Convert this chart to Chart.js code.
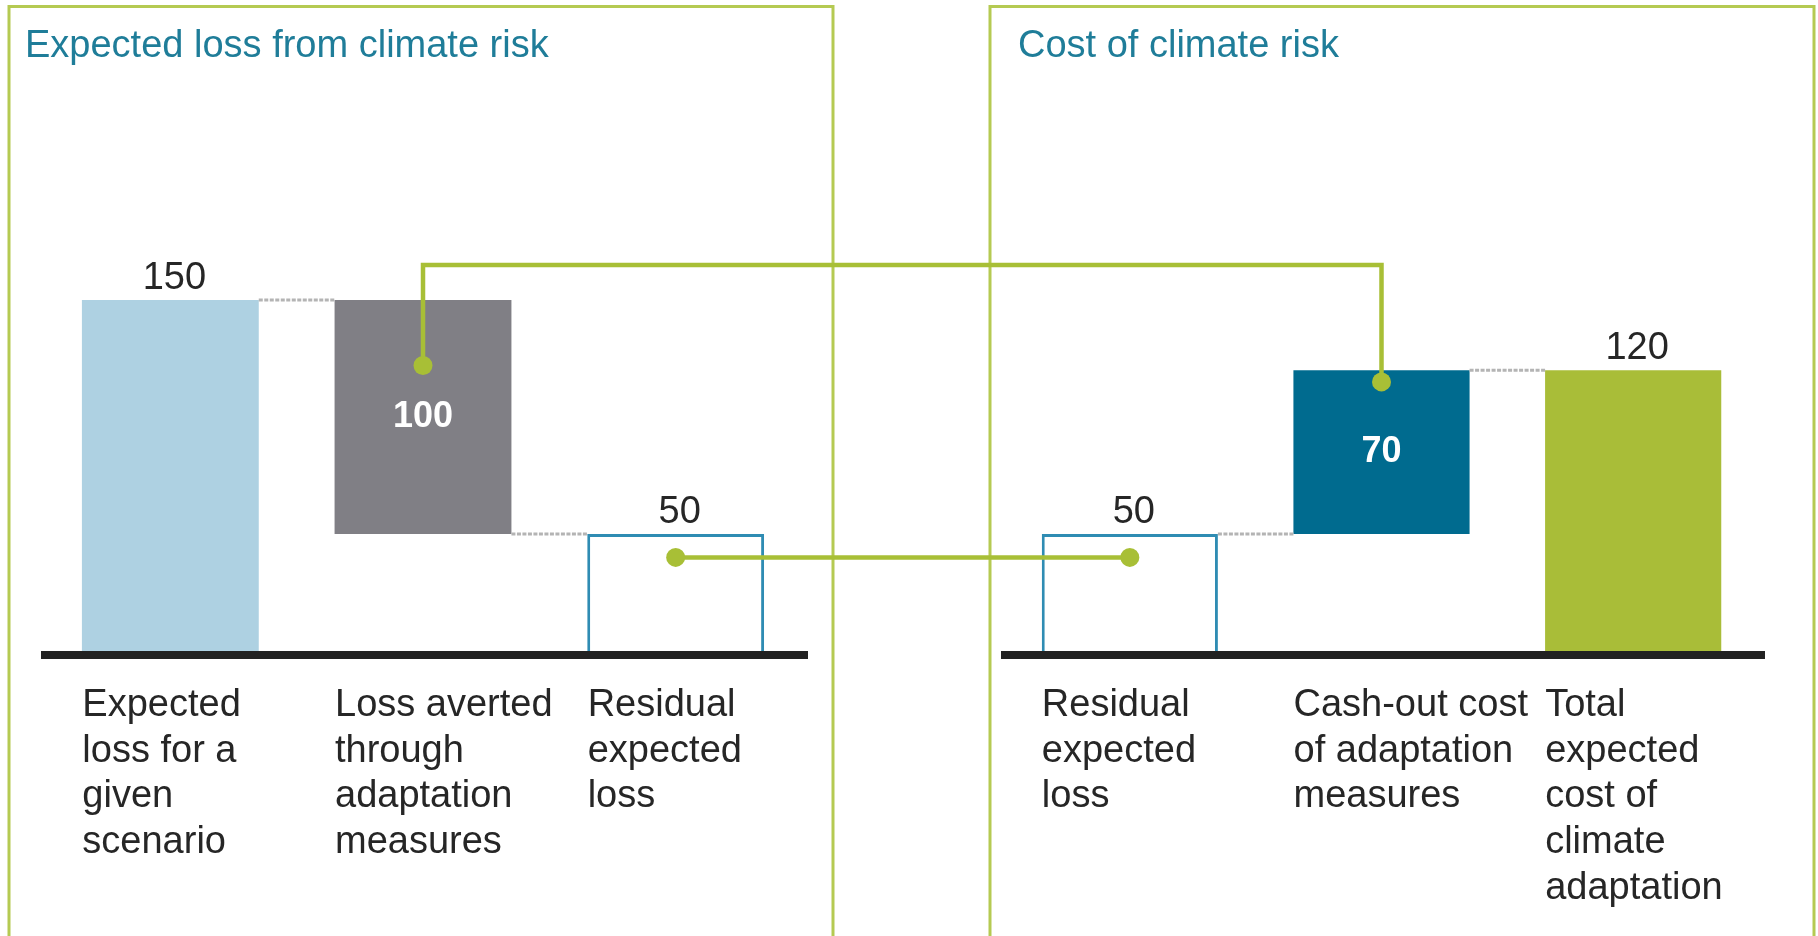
<!DOCTYPE html>
<html><head><meta charset="utf-8">
<script src="https://cdn.jsdelivr.net/npm/chart.js@4.4.1/dist/chart.umd.min.js"></script>
<style>
html,body{margin:0;padding:0;background:#fff;overflow:hidden}
#wrap{position:relative;width:1818px;height:936px}
canvas{position:absolute;top:0}
#cL{left:0}
#cR{left:900px}
#ov{left:0;pointer-events:none}
</style></head><body>
<div id="wrap">
<canvas id="cL" width="900" height="936"></canvas>
<canvas id="cR" width="918" height="936"></canvas>
<canvas id="ov" width="1818" height="936"></canvas>
</div>
<script>
// ---------- data ----------
const leftTitle = "Expected loss from climate risk";
const leftCategories = [["Expected","loss for a","given","scenario"],["Loss averted","through","adaptation","measures"],["Residual","expected","loss"]];
const leftFrom = [0, 50, 0];
const leftTo = [150, 150, 50];
const leftValueText = ["150", "100", "50"];

const rightTitle = "Cost of climate risk";
const rightCategories = [["Residual","expected","loss"],["Cash-out cost","of adaptation","measures"],["Total","expected","cost of","climate","adaptation"]];
const rightFrom = [0, 50, 0];
const rightTo = [50, 120, 120];
const rightValueText = ["50", "70", "120"];

// green links between the panels (category index + value in each panel)
const linkResidual = { leftIndex: 2, leftValue: 40, rightIndex: 0, rightValue: 40 };
const linkCost = { leftIndex: 1, leftValue: 122, topValue: 165, rightIndex: 1, rightValue: 115 };
const yMax = 250;

// ---------- styles ----------
const FONT = '"Liberation Sans", Arial, Helvetica, sans-serif';
const leftFill = ['#aed1e2', '#807f85', '#ffffff'];
const leftBorder = ['#aed1e2', '#807f85', '#2f8cb3'];
const leftBorderW = [0, 0, 3];
const leftInside = [false, true, false];
const rightFill = ['#ffffff', '#006b8f', '#a9bd38'];
const rightBorder = ['#2f8cb3', '#006b8f', '#a9bd38'];
const rightBorderW = [3, 0, 0];
const rightInside = [false, true, false];

function sharedValue(a0, a1, b0, b1) {
  const cands = [a0, a1].filter(v => v !== 0 && (v === b0 || v === b1));
  return cands.length ? cands[0] : null;
}

function panelPlugin(cfg) {
  return {
    id: 'panel',
    beforeDraw(chart) {
      const ctx = chart.ctx;
      ctx.save();
      ctx.fillStyle = '#fff';
      ctx.fillRect(0, 0, chart.width, chart.height);
      ctx.strokeStyle = '#b5ca52';
      ctx.lineWidth = 3;
      ctx.beginPath();
      ctx.moveTo(cfg.boxLeft, chart.height + 10);
      ctx.lineTo(cfg.boxLeft, 6.5);
      ctx.lineTo(cfg.boxRight, 6.5);
      ctx.lineTo(cfg.boxRight, chart.height + 10);
      ctx.stroke();
      ctx.font = '38px ' + FONT;
      ctx.fillStyle = '#1f7d99';
      ctx.textAlign = 'left';
      ctx.textBaseline = 'alphabetic';
      ctx.fillText(cfg.title, cfg.titleX, 57);
      ctx.restore();
    },
    afterDatasetsDraw(chart) {
      const ctx = chart.ctx;
      const meta = chart.getDatasetMeta(0);
      const ys = chart.scales.y;
      const area = chart.chartArea;
      ctx.save();
      // grey step connectors
      ctx.strokeStyle = '#b4b4b4';
      ctx.lineWidth = 3;
      ctx.setLineDash([4, 1.5]);
      for (let i = 0; i < cfg.from.length - 1; i++) {
        const v = sharedValue(cfg.from[i], cfg.to[i], cfg.from[i + 1], cfg.to[i + 1]);
        if (v === null) continue;
        const py = ys.getPixelForValue(v);
        const a = meta.data[i], b = meta.data[i + 1];
        ctx.beginPath();
        ctx.moveTo(a.x + a.width / 2, py);
        ctx.lineTo(b.x - b.width / 2, py);
        ctx.stroke();
      }
      ctx.setLineDash([]);
      // baseline
      const y0 = ys.getPixelForValue(0);
      ctx.fillStyle = '#222222';
      ctx.fillRect(area.left - 3, y0, area.right - area.left + 9, 8);
      // value labels
      ctx.textAlign = 'center';
      for (let i = 0; i < meta.data.length; i++) {
        const bar = meta.data[i];
        const top = Math.min(bar.y, bar.base);
        const bottom = Math.max(bar.y, bar.base);
        if (cfg.inside[i]) {
          ctx.font = 'bold 36px ' + FONT;
          ctx.fillStyle = '#ffffff';
          ctx.textBaseline = 'middle';
          ctx.fillText(cfg.valueText[i], bar.x, (top + bottom) / 2);
        } else {
          ctx.font = '38px ' + FONT;
          ctx.fillStyle = '#262626';
          ctx.textBaseline = 'alphabetic';
          ctx.fillText(cfg.valueText[i], bar.x + 4, top - 11);
        }
      }
      ctx.restore();
    }
  };
}

function makeChart(canvas, cfg) {
  return new Chart(canvas, {
    type: 'bar',
    data: {
      labels: cfg.categories,
      datasets: [{
        data: cfg.from.map((f, i) => [f, cfg.to[i]]),
        backgroundColor: cfg.fill,
        borderColor: cfg.border,
        borderWidth: cfg.borderW,
        borderSkipped: 'start',
        barPercentage: 0.7,
        categoryPercentage: 1.0
      }]
    },
    options: {
      responsive: false,
      animation: false,
      devicePixelRatio: 1,
      events: [],
      layout: { padding: { left: cfg.padLeft, right: cfg.padRight, top: 66, bottom: 0 } },
      plugins: { legend: { display: false }, tooltip: { enabled: false }, title: { display: false } },
      scales: {
        y: { display: false, min: 0, max: yMax },
        x: {
          grid: { display: false, drawTicks: false },
          border: { display: false },
          afterFit(scale) { scale.height = 285; scale.paddingLeft = 0; scale.paddingRight = 0; },
          ticks: {
            autoSkip: false,
            maxRotation: 0,
            minRotation: 0,
            align: 'start',
            labelOffset: -88,
            padding: 32,
            color: '#262626',
            font: { family: FONT, size: 38, lineHeight: 1.2 }
          }
        }
      }
    },
    plugins: [panelPlugin(cfg)]
  });
}

const chartL = makeChart(document.getElementById('cL'), {
  categories: leftCategories, from: leftFrom, to: leftTo, valueText: leftValueText,
  fill: leftFill, border: leftBorder, borderW: leftBorderW, inside: leftInside,
  padLeft: 44, padRight: 98, boxLeft: 9, boxRight: 833, title: leftTitle, titleX: 25
});
const chartR = makeChart(document.getElementById('cR'), {
  categories: rightCategories, from: rightFrom, to: rightTo, valueText: rightValueText,
  fill: rightFill, border: rightBorder, borderW: rightBorderW, inside: rightInside,
  padLeft: 104, padRight: 59, boxLeft: 90, boxRight: 914, title: rightTitle, titleX: 118
});

function drawLinks() {
  const ov = document.getElementById('ov');
  const ctx = ov.getContext('2d');
  ctx.clearRect(0, 0, ov.width, ov.height);
  const offL = chartL.canvas.offsetLeft, offR = chartR.canvas.offsetLeft;
  const mL = chartL.getDatasetMeta(0), mR = chartR.getDatasetMeta(0);
  const yL = v => chartL.scales.y.getPixelForValue(v);
  const yR = v => chartR.scales.y.getPixelForValue(v);
  ctx.strokeStyle = '#a8bf36';
  ctx.fillStyle = '#a8bf36';
  ctx.lineWidth = 4.5;
  ctx.lineJoin = 'miter';
  function dot(x, y) { ctx.beginPath(); ctx.arc(x, y, 9.5, 0, Math.PI * 2); ctx.fill(); }

  // cost link: loss averted -> cash-out cost
  let x1 = mL.data[linkCost.leftIndex].x + offL, y1 = yL(linkCost.leftValue);
  let x2 = mR.data[linkCost.rightIndex].x + offR, y2 = yR(linkCost.rightValue);
  const yt = yL(linkCost.topValue);
  ctx.beginPath();
  ctx.moveTo(x1, y1); ctx.lineTo(x1, yt); ctx.lineTo(x2, yt); ctx.lineTo(x2, y2);
  ctx.stroke();
  dot(x1, y1); dot(x2, y2);

  // residual link
  x1 = mL.data[linkResidual.leftIndex].x + offL; y1 = yL(linkResidual.leftValue);
  x2 = mR.data[linkResidual.rightIndex].x + offR; y2 = yR(linkResidual.rightValue);
  ctx.beginPath();
  ctx.moveTo(x1, y1); ctx.lineTo(x2, y2);
  ctx.stroke();
  dot(x1, y1); dot(x2, y2);
}
drawLinks();
</script>
</body></html>
